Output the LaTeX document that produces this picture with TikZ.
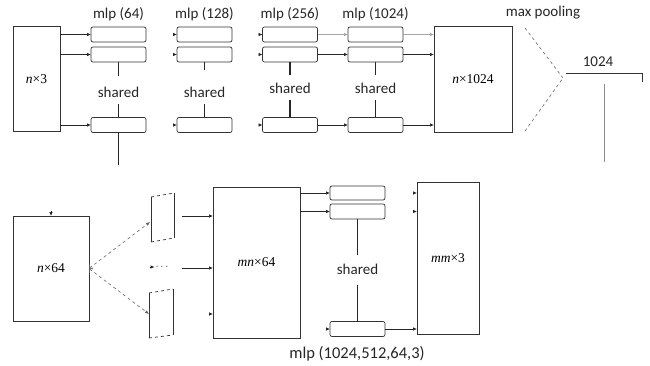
\documentclass[tikz,border=0pt]{standalone}
\usepackage{fontspec}
\setmainfont{Liberation Serif}
\newfontfamily\labfont{Carlito}
\usetikzlibrary{arrows.meta, positioning}

\begin{document}
\begin{tikzpicture}[
  x=1pt, y=-1pt,
  every node/.style = {inner sep=0pt, outer sep=0pt},
  tensor/.style = {
    draw=black!80,
    line width=0.7pt,
    font=\fontsize{13.5}{15}\selectfont
  },
  layer/.style = {
    draw=black!80,
    rounded corners=2pt,
    line width=0.7pt,
    minimum width=55pt,
    minimum height=15pt
  },
  note/.style = {font=\labfont\fontsize{15}{17}\selectfont, text=black!85},
  arrow/.style = {
    -{Latex[length=4pt,width=3.5pt]},
    black!85,
    line width=0.7pt
  },
  faint/.style = {arrow, black!35},
  stub/.style = {black!85, line width=1.3pt},
  pool/.style = {black!60, dashed, line width=0.6pt}
]
\useasboundingbox (0,0) rectangle (650,366);

% input points and shared mlp stages
\node[tensor, minimum width=47pt, minimum height=105pt] (nx3) at (36.5,79) {\textit{n}×3};

\foreach \col/\cx/\cap in {c1/118.5/64, c2/204.5/128, c3/290/256, c4/375.5/1024} {
  \node[layer] (\col a) at (\cx,34.5) {};
  \node[layer] (\col b) at (\cx,54.5) {};
  \node[layer] (\col c) at (\cx,125) {};
  \node[note, above=6pt of \col a] (\col t) {mlp (\cap)};
}

\node[note] (sh1) at (118.5,92) {shared};
\node[note] (sh2) at (204.5,92) {shared};
\node[note] (sh3) at (290,88) {shared};
\node[note] (sh4) at (375.5,88) {shared};

\draw[black!85, line width=0.8pt] (c1b.south) -- ++(0,14);
\draw[black!85, line width=0.8pt] (c1c.north) -- ++(0,-13);
\draw[black!85, line width=0.8pt] (c1c.south) -- ++(0,33);
\draw[stub] (c2b.south) -- ++(0,8);
\draw[stub] (c2c.north) -- ++(0,-13);
\foreach \col in {c3, c4} {
  \draw[stub] (\col b.south) -- ++(0,13);
  \draw[stub] (\col c.north) -- ++(0,-17);
}

\draw[arrow] (nx3.east |- c1a.west) -- (c1a.west);
\draw[arrow] (nx3.east |- c1b.west) -- (c1b.west);
\draw[arrow] (nx3.east |- c1c.west) -- (c1c.west);

\foreach \col in {c2, c3} {
  \foreach \r in {a, b, c} {
    \draw[arrow] ([xshift=-4pt]\col\r.west) -- (\col\r.west);
  }
}

\draw[faint] (c3a.east) -- (c4a.west);
\draw[arrow] (c3b.east) -- (c4b.west);
\draw[arrow] (c3c.east) -- (c4c.west);

% global feature
\node[tensor, minimum width=78pt, minimum height=106pt] (nx1024) at (473,79) {\textit{n}×1024};
\draw[faint] (c4a.east) -- (nx1024.west |- c4a.east);
\draw[arrow] (c4b.east) -- (nx1024.west |- c4b.east);
\draw[arrow] (c4c.east) -- (nx1024.west |- c4c.east);

\node[note] (maxp) at (543,13) {max pooling};
\coordinate (pt) at (525,28);
\coordinate (pb) at (525,131);
\coordinate (apex) at (563,78);
\draw[pool] (pt) -- (apex);
\draw[pool] (pb) -- (apex);

\coordinate (gl) at (566,73);
\coordinate (gr) at (642,73);
\draw[black!80, line width=0.7pt] (gl) -- (gr) -- ++(0,9);
\node[note] (glab) at (598,62) {1024};
\draw[black!45, line width=0.7pt] (604,84) -- (604,162);

% second stage
\node[tensor, minimum width=76pt, minimum height=105pt] (nx64) at (51,268.5) {\textit{n}×64};
\draw[arrow] ([yshift=5pt]nx64.north) -- (nx64.north);

% upper patch
\coordinate (u1) at (151,197);
\coordinate (u2) at (174,193);
\coordinate (u3) at (174,238);
\coordinate (u4) at (151,242);
\draw[black!80, line width=0.7pt] (u1) -- (u4);
\draw[black!80, line width=0.7pt] (u2) -- (u3);
\draw[black!80, line width=0.7pt, dashed] (u1) -- (u2);
\draw[black!80, line width=0.7pt, dashed] (u4) -- (u3);

% lower patch
\coordinate (l1) at (149,293);
\coordinate (l2) at (173,289);
\coordinate (l3) at (173,335);
\coordinate (l4) at (149,338);
\draw[black!80, line width=0.7pt] (l1) -- (l4);
\draw[black!80, line width=0.7pt] (l2) -- (l3);
\draw[black!80, line width=0.7pt, dashed] (l1) -- (l2);
\draw[black!80, line width=0.7pt, dashed] (l4) -- (l3);

\coordinate (ut) at (150,222);
\coordinate (lt) at (149,314);
\draw[pool, {To[length=3pt]}-{Latex[length=4pt,width=3.5pt]}] (nx64.east) -- (ut);
\draw[pool, {To[length=3pt]}-{Latex[length=4pt,width=3.5pt]}] (nx64.east) -- (lt);

\node[note, font=\labfont\fontsize{11}{13}\selectfont] (dots) at (162,267) {$\cdots$};
\draw[arrow] ([xshift=-6pt]dots.west) -- ([xshift=-1pt]dots.west);

\node[tensor, minimum width=87pt, minimum height=151pt] (mnx64) at (256.5,262.5) {\textit{mn}×64};
\draw[arrow] (182,216) -- (mnx64.west |- 182,216);
\draw[arrow] (182,268) -- (mnx64.west |- 182,268);
\draw[arrow] ([xshift=-4pt]mnx64.west |- 0,314) -- (mnx64.west |- 0,314);

\node[layer, minimum height=14pt] (d1) at (357.5,193) {};
\node[layer] (d2) at (357.5,211.5) {};
\node[layer] (d3) at (357.5,329) {};
\node[note] (sh5) at (357.5,269) {shared};
\draw[stub] (d2.south) -- ++(0,36);
\draw[stub] (d3.north) -- ++(0,-37);

\draw[arrow] (mnx64.east |- d1.west) -- (d1.west);
\draw[arrow] (mnx64.east |- d2.west) -- (d2.west);
\draw[arrow] ([xshift=-4pt]d3.west) -- (d3.west);

\node[tensor, minimum width=62pt, minimum height=152pt] (mmx3) at (448,258) {\textit{mm}×3};
\draw[arrow] (d3.east) -- (mmx3.west |- d3.east);
\draw[arrow] ([xshift=-4pt]mmx3.west |- d1.west) -- (mmx3.west |- d1.west);
\draw[arrow] ([xshift=-4pt]mmx3.west |- d2.west) -- (mmx3.west |- d2.west);

\node[note, font=\labfont\fontsize{16.5}{18}\selectfont] (mlpout) at (357,354) {mlp (1024,512,64,3)};

\end{tikzpicture}
\end{document}
